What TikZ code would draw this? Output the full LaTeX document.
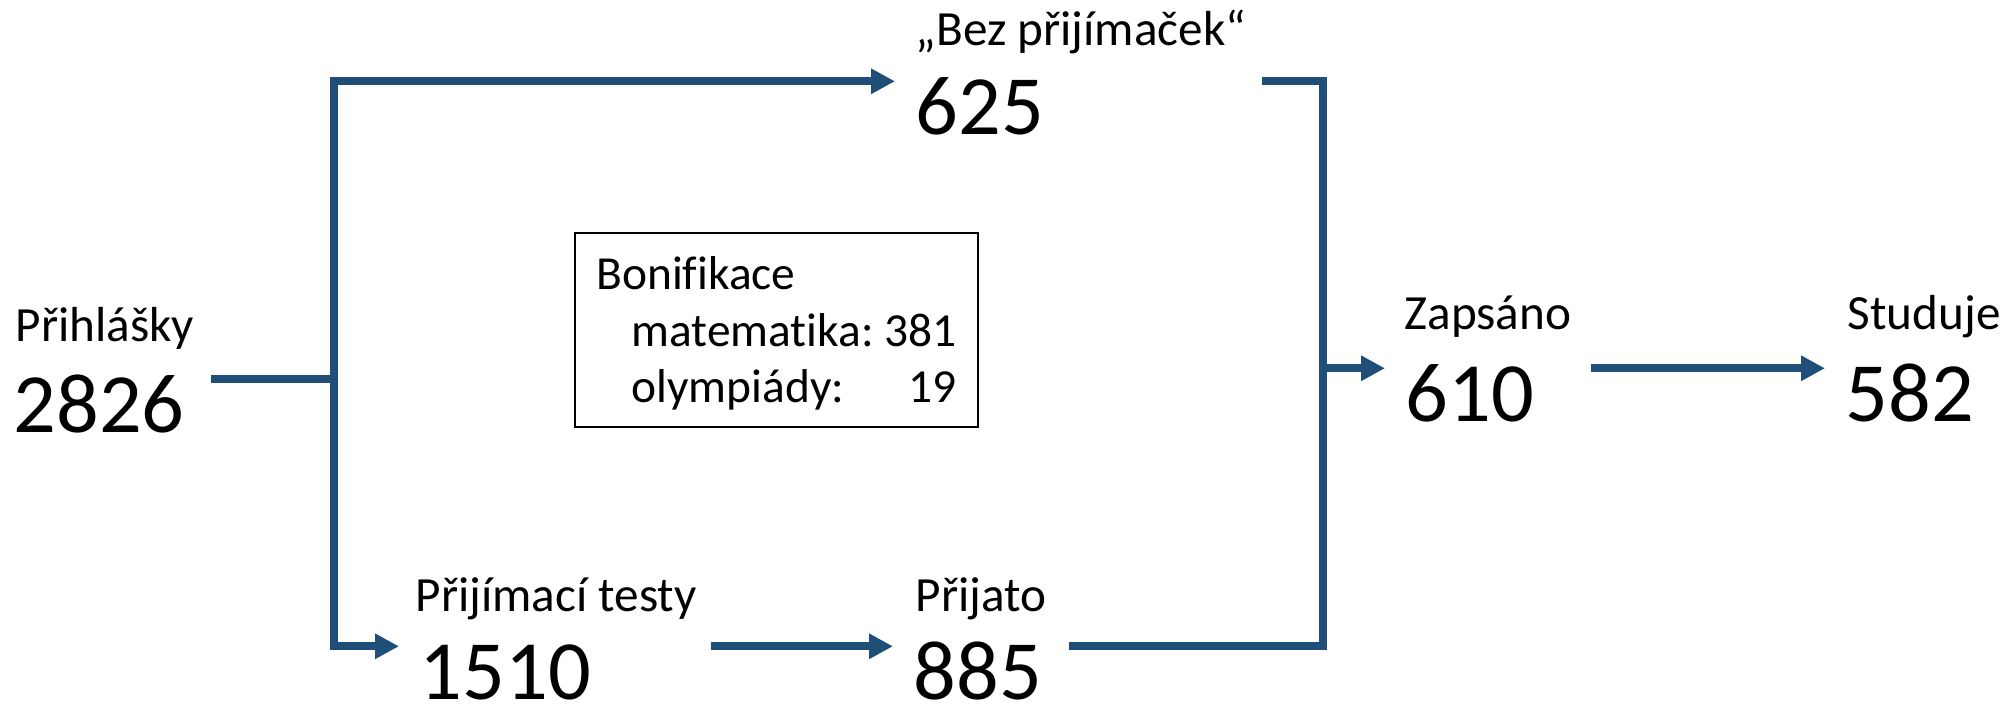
\documentclass[tikz,border=0pt]{standalone}
\usepackage{fontspec}
\setmainfont{Carlito}[Ligatures=CommonOff]
\usetikzlibrary{calc, arrows.meta}
\definecolor{flowblue}{HTML}{1F4E79}

\begin{document}
\begin{tikzpicture}[
 lbl/.style={anchor=base west, inner sep=0pt, font=\fontsize{14}{16}\selectfont},
 num/.style={anchor=base west, inner xsep=0.2cm, inner ysep=0pt, text height=0.53cm, text depth=0pt, font=\fontsize{24}{28}\selectfont},
 link/.style={draw=flowblue, line width=0.08cm},
 flow/.style={link, -{Triangle[length=0.24cm, width=0.24cm]}},
 bonusbox/.style={draw, line width=0.6pt, minimum width=4.03cm, minimum height=1.94cm, inner sep=0pt, font=\fontsize{13.5}{16}\selectfont}
]
 \useasboundingbox (0,0) rectangle (20.05,7.08);
 % labels
 \node[lbl] (lprihlasky) at (0.15,3.66) {Přihlášky};
 \node[lbl] (lbez) at (9.15,6.62) {„Bez přijímaček“};
 \node[lbl] (ltesty) at (4.15,0.96) {Přijímací testy};
 \node[lbl] (lprijato) at (9.15,0.96) {Přijato};
 \node[lbl] (lzapsano) at (14.04,3.78) {Zapsáno};
 \node[lbl] (lstuduje) at (18.47,3.78) {Studuje};
 % numbers
 \node[num] (n2826) at (-0.07,2.75) {2826};
 \node[num] (n625) at (8.95,5.73) {625};
 \node[num] (n1510) at (3.99,0.08) {1510};
 \node[num] (n885) at (8.93,0.08) {885};
 \node[num] (n610) at (13.85,2.86) {610};
 \node[num] (n582) at (18.25,2.86) {582};
 % bonifikace
 \node[bonusbox] (bonus) at (7.765,3.78) {\raisebox{-0.05cm}[\height][\depth]{\begin{tabular}{@{}l@{\ }r@{}}
  \multicolumn{2}{@{}l@{}}{Bonifikace}\\
  \hspace{0.35cm}matematika: & 381\\
  \hspace{0.35cm}olympiády: & 19
 \end{tabular}}};
 % junctions
 \coordinate (splitx) at (3.34,0);
 \coordinate (mergex) at (13.23,0);
 \coordinate (split) at (splitx |- n2826.north east);
 \coordinate (merge) at (mergex |- n610.north west);
 % connectors
 \draw[link, shorten <=0.06cm] (n2826.north east) -- (split);
 \draw[flow] (split) |- (n625.north west);
 \draw[flow] (split) |- (n1510.north west);
 \draw[flow, shorten <=1cm] (n1510.north east) -- (n885.north west);
 \draw[link, shorten <=1.97cm] (n625.north east) -| (merge);
 \draw[link, shorten <=0.06cm] (n885.north east) -| (merge);
 \draw[flow] (merge) -- (n610.north west);
 \draw[flow, shorten <=0.36cm] (n610.north east) -- (n582.north west);
\end{tikzpicture}
\end{document}
